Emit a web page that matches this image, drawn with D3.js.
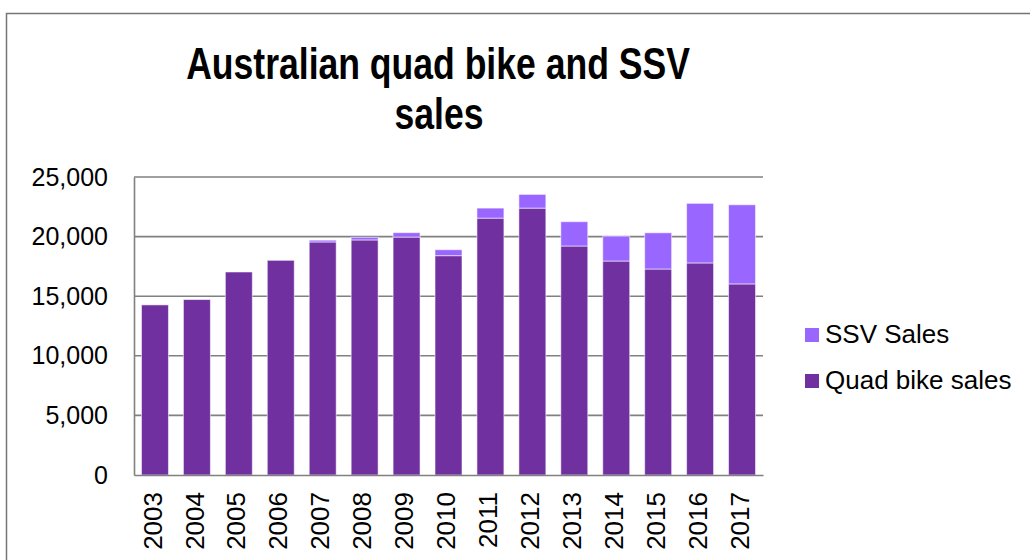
<!DOCTYPE html>
<html>
<head>
<meta charset="utf-8">
<script src="https://cdn.jsdelivr.net/npm/d3@7"></script>
<style>
  body { margin: 0; background: #fff; }
  text { font-family: "Liberation Sans", Arial, sans-serif; fill: #000; }
</style>
</head>
<body>
<div class="chart"></div>
<script>
// chart data
var years = ["2003", "2004", "2005", "2006", "2007", "2008", "2009", "2010",
             "2011", "2012", "2013", "2014", "2015", "2016", "2017"];
var quadSales = [14270, 14720, 17030, 18010, 19550, 19720, 19960, 18400,
                 21550, 22390, 19210, 17950, 17280, 17790, 16030];
var ssvSales = [0, 0, 0, 0, 150, 220, 370, 500,
                840, 1150, 2040, 2090, 3040, 5000, 6640];
var yTicks = [0, 5000, 10000, 15000, 20000, 25000];
var seriesNames = ["SSV Sales", "Quad bike sales"];
var seriesColors = ["#9966FF", "#7030A0"];

var svgWidth = 1030;
var svgHeight = 560;

var margin = { top: 177, right: 267, bottom: 85, left: 134 };
var chartWidth = svgWidth - margin.left - margin.right;
var chartHeight = svgHeight - margin.top - margin.bottom;

var svg = d3.select(".chart")
  .append("svg")
  .attr("width", svgWidth)
  .attr("height", svgHeight);

// outer chart frame (runs off the right and bottom edges)
svg.append("rect")
  .attr("x", 6.5)
  .attr("y", 13.5)
  .attr("width", 1100)
  .attr("height", 700)
  .attr("fill", "#fff")
  .attr("stroke", "#767676")
  .attr("stroke-width", 1.5);

// title, narrow and tall
var title = svg.append("g");
title.append("text")
  .attr("transform", "translate(438,79) scale(0.79,1)")
  .attr("text-anchor", "middle")
  .style("font-size", "45px")
  .style("font-weight", "bold")
  .text("Australian quad bike and SSV");
title.append("text")
  .attr("transform", "translate(439,129) scale(0.79,1)")
  .attr("text-anchor", "middle")
  .style("font-size", "45px")
  .style("font-weight", "bold")
  .text("sales");

var chartGroup = svg.append("g")
  .attr("transform", `translate(${margin.left}, ${margin.top})`);

var xBandScale = d3.scaleBand()
  .domain(years)
  .range([0, chartWidth])
  .paddingInner(0.357)
  .paddingOuter(0.1785);

var yLinearScale = d3.scaleLinear()
  .domain([0, 25000])
  .range([chartHeight, 0]);

// gridlines
chartGroup.append("g")
  .selectAll("line")
  .data(yTicks.filter(d => d > 0))
  .enter()
  .append("line")
  .attr("x1", 0)
  .attr("x2", chartWidth)
  .attr("y1", d => yLinearScale(d))
  .attr("y2", d => yLinearScale(d))
  .attr("stroke", "#808080")
  .attr("stroke-width", 1.6);

// stack the two series
var rows = years.map(function(y, i) {
  return { year: y, quad: quadSales[i], ssv: ssvSales[i] };
});
var stack = d3.stack().keys(["quad", "ssv"]);
var layers = stack(rows);
var layerColor = { quad: seriesColors[1], ssv: seriesColors[0] };

chartGroup.append("g")
  .selectAll("g")
  .data(layers)
  .enter()
  .append("g")
  .attr("fill", d => layerColor[d.key])
  .selectAll("rect")
  .data(d => d.filter(p => p[1] - p[0] > 0))
  .enter()
  .append("rect")
  .attr("x", d => xBandScale(d.data.year))
  .attr("width", xBandScale.bandwidth())
  .attr("y", d => yLinearScale(d[1]))
  .attr("height", d => yLinearScale(d[0]) - yLinearScale(d[1]))
  .attr("stroke", "#ffffff")
  .attr("stroke-opacity", 0.55)
  .attr("stroke-width", 1);

// axes
var leftAxis = d3.axisLeft(yLinearScale)
  .tickValues(yTicks)
  .tickFormat(d3.format(","))
  .tickSize(0)
  .tickPadding(26);

var yAxisG = chartGroup.append("g").call(leftAxis);
yAxisG.select(".domain").attr("stroke", "#808080").attr("stroke-width", 1.6);
yAxisG.selectAll("text")
  .style("font-size", "25px")
  .style("font-family", "'Liberation Sans', Arial, sans-serif")
  .attr("fill", "#000");

var bottomAxis = d3.axisBottom(xBandScale).tickSize(0);
var xAxisG = chartGroup.append("g")
  .attr("transform", `translate(0, ${chartHeight})`)
  .call(bottomAxis);
xAxisG.select(".domain").attr("stroke", "#808080").attr("stroke-width", 1.6);
xAxisG.selectAll("text")
  .attr("transform", "rotate(-90)")
  .attr("x", -17)
  .attr("y", -2.5)
  .attr("dy", "0.35em")
  .style("text-anchor", "end")
  .style("font-size", "26px")
  .style("font-family", "'Liberation Sans', Arial, sans-serif")
  .attr("fill", "#000");

// legend
var legend = svg.append("g")
  .selectAll("g")
  .data(seriesNames)
  .enter()
  .append("g")
  .attr("transform", (d, i) => `translate(805, ${328 + i * 46})`);

legend.append("rect")
  .attr("width", 14)
  .attr("height", 14)
  .attr("fill", (d, i) => seriesColors[i]);

legend.append("text")
  .attr("x", 20)
  .attr("y", 15)
  .style("font-size", "26px")
  .text(d => d);
</script>
</body>
</html>
